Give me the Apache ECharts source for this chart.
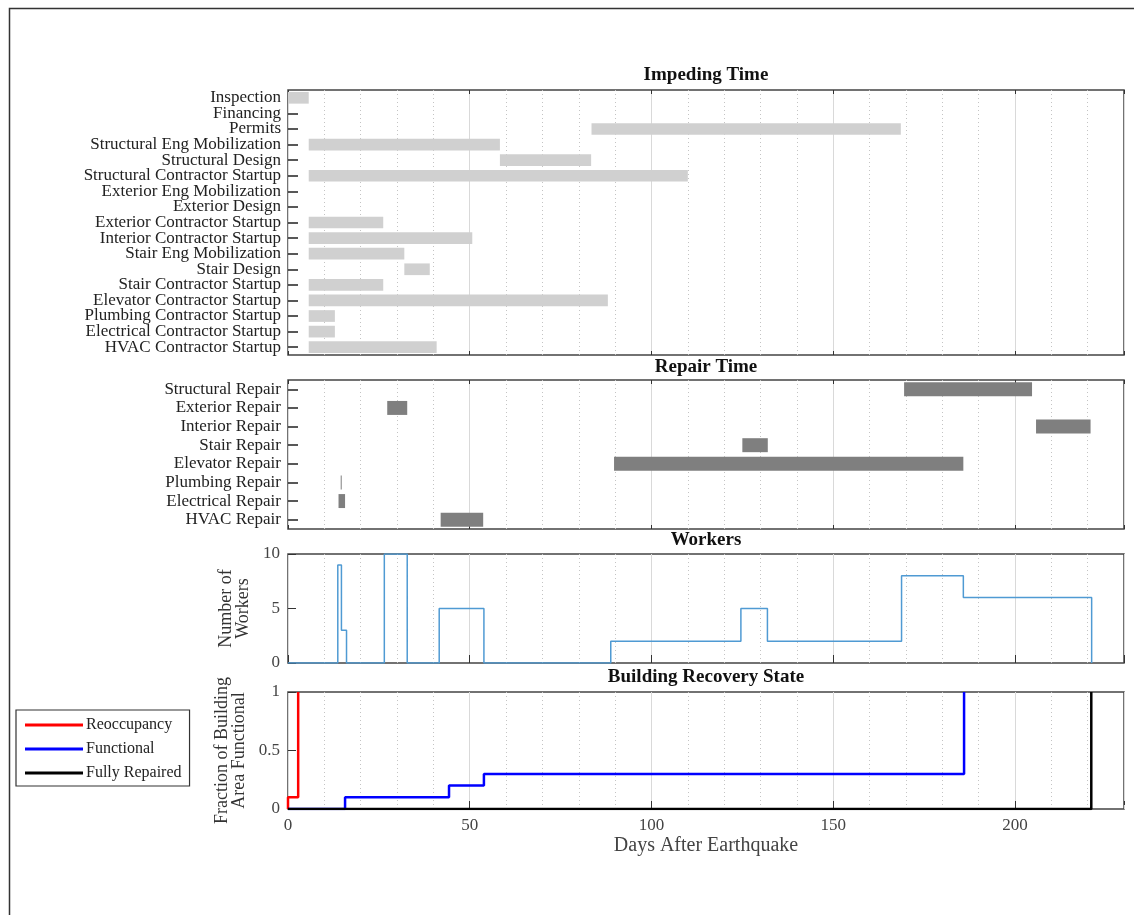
<!DOCTYPE html>
<html>
<head>
<meta charset="utf-8">
<script src="https://cdn.jsdelivr.net/npm/echarts@6/dist/echarts.min.js"></script>
<style>
html, body { margin: 0; padding: 0; background: #fff; }
#chart { width: 1134px; height: 915px; }
</style>
</head>
<body>
<div id="chart"></div>
<script>
// impeding time (days after earthquake)
var impedingNames = ['Inspection', 'Financing', 'Permits', 'Structural Eng Mobilization', 'Structural Design',
    'Structural Contractor Startup', 'Exterior Eng Mobilization', 'Exterior Design', 'Exterior Contractor Startup',
    'Interior Contractor Startup', 'Stair Eng Mobilization', 'Stair Design', 'Stair Contractor Startup',
    'Elevator Contractor Startup', 'Plumbing Contractor Startup', 'Electrical Contractor Startup', 'HVAC Contractor Startup'];
var impedingStart = [0, null, 83.5, 5.7, 58.3, 5.7, null, null, 5.7, 5.7, 5.7, 32, 5.7, 5.7, 5.7, 5.7, 5.7];
var impedingEnd   = [5.7, null, 168.6, 58.3, 83.4, 110, null, null, 26.2, 50.7, 32, 39, 26.2, 88, 12.9, 12.9, 40.9];

// repair time
var repairNames = ['Structural Repair', 'Exterior Repair', 'Interior Repair', 'Stair Repair',
    'Elevator Repair', 'Plumbing Repair', 'Electrical Repair', 'HVAC Repair'];
var repairStart = [169.5, 27.3, 205.8, 125, 89.7, 14.5, 13.9, 42];
var repairEnd   = [204.7, 32.8, 220.8, 132, 185.8, 14.7, 15.7, 53.7];

// workers (value holds from each day onward)
var workerDays  = [0, 13.7, 14.7, 16.1, 26.5, 32.8, 41.6, 53.9, 88.8, 124.6, 131.9, 168.8, 185.8, 221.1];
var workerCount = [0, 9, 3, 0, 10, 0, 5, 0, 2, 5, 2, 8, 6, 0];

// building recovery state
var reoccDays = [0, 0, 2.8];
var reoccFrac = [0, 0.1, 1];
var funcDays  = [0, 15.7, 44.3, 53.9, 186];
var funcFrac  = [0, 0.1, 0.2, 0.3, 1];
var fullDays  = [0, 221];
var fullFrac  = [0, 1];

// axis ticks
var dayTicks = [0, 50, 100, 150, 200];
var dayMax = 230;
var workerTicks = [0, 5, 10];
var fracTicks = [0, 0.5, 1];

var serif = '"Liberation Serif", "DejaVu Serif", serif';
var grids = [
    {left: 288, top: 90, width: 836, height: 265},
    {left: 288, top: 380, width: 836, height: 149},
    {left: 288, top: 554, width: 836, height: 109},
    {left: 288, top: 692, width: 836, height: 117}
];

function zip(xs, ys) {
    return xs.map(function (x, i) { return [x, ys[i]]; });
}

// ticks point into the plot box: shift each axis inward by the tick length
var TL = 4;
var tickStyle = {show: true, inside: false, length: TL, lineStyle: {color: '#333', width: 1}};

function dayAxis(g, pos) {
    var bottom = pos === 'bottom';
    return {
        type: 'value', gridIndex: g, position: pos, offset: -TL,
        min: dayTicks[0], max: dayMax, interval: dayTicks[1] - dayTicks[0],
        axisLine: {show: false},
        axisTick: tickStyle,
        axisLabel: {show: bottom && g === 3, showMaxLabel: false, color: '#444', fontFamily: serif, fontSize: 17, margin: 8 + TL},
        name: bottom && g === 3 ? 'Days After Earthquake' : '',
        nameLocation: 'middle', nameGap: 27 + TL,
        nameTextStyle: {color: '#444', fontFamily: serif, fontSize: 20},
        splitLine: {show: bottom, lineStyle: {color: '#d9d9d9', width: 1}},
        minorTick: {show: false, splitNumber: 5},
        minorSplitLine: {show: bottom, lineStyle: {color: '#c4c4c4', width: 1, type: [1, 3]}}
    };
}

function catAxis(g, names, pos) {
    var left = pos === 'left';
    return {
        type: 'category', gridIndex: g, position: pos, data: names, inverse: true, offset: -5,
        axisLine: {show: false},
        axisTick: {show: true, inside: false, alignWithLabel: true, length: 5, lineStyle: {color: '#222', width: 1.5}},
        axisLabel: {show: left, interval: 0, color: '#222', fontFamily: serif, fontSize: 17, lineHeight: 15, margin: 12},
        splitLine: {show: false}
    };
}

function valAxis(g, ticks, pos, name, gap) {
    var left = pos === 'left';
    return {
        type: 'value', gridIndex: g, position: pos, offset: -TL,
        min: ticks[0], max: ticks[ticks.length - 1], interval: ticks[1] - ticks[0],
        axisLine: {show: false},
        axisTick: tickStyle,
        axisLabel: {show: left, color: '#444', fontFamily: serif, fontSize: 17, margin: 8 + TL},
        splitLine: {show: false},
        name: left ? name : '', nameLocation: 'middle', nameRotate: 90, nameGap: gap + TL,
        nameTextStyle: {color: '#333', fontFamily: serif, fontSize: 18, lineHeight: 17}
    };
}

function ganttSeries(g, starts, ends, color, key) {
    return [
        {
            type: 'bar', name: key + ' base', xAxisIndex: g, yAxisIndex: g, stack: key, silent: true,
            barWidth: '75%', itemStyle: {color: 'transparent'},
            data: starts.map(function (v) { return v == null ? '-' : v; })
        },
        {
            type: 'bar', name: key, xAxisIndex: g, yAxisIndex: g, stack: key,
            barWidth: '75%', barMinHeight: 1, itemStyle: {color: color},
            data: ends.map(function (e, i) { return e == null ? '-' : +(e - starts[i]).toFixed(2); })
        }
    ];
}

function stepLine(name, xs, ys, color, width, z) {
    return {
        type: 'line', name: name, xAxisIndex: 3, yAxisIndex: 3, step: 'end',
        showSymbol: false, symbol: 'none', z: z,
        lineStyle: {color: color, width: width}, itemStyle: {color: color},
        data: zip(xs, ys)
    };
}

var xAxes = [], yAxes = [];
for (var g = 0; g < 4; g++) xAxes.push(dayAxis(g, 'bottom'));
for (var g2 = 0; g2 < 4; g2++) xAxes.push(dayAxis(g2, 'top'));
yAxes.push(catAxis(0, impedingNames, 'left'));
yAxes.push(catAxis(1, repairNames, 'left'));
yAxes.push(valAxis(2, workerTicks, 'left', 'Number of\nWorkers', 35));
yAxes.push(valAxis(3, fracTicks, 'left', 'Fraction of Building\nArea Functional', 40));
yAxes.push(catAxis(0, impedingNames, 'right'));
yAxes.push(catAxis(1, repairNames, 'right'));
yAxes.push(valAxis(2, workerTicks, 'right', '', 0));
yAxes.push(valAxis(3, fracTicks, 'right', '', 0));

var titleStyle = {color: '#111', fontFamily: serif, fontSize: 19, fontWeight: 'bold'};
function panelTitle(text, top) {
    return {text: text, left: 706, top: top, textAlign: 'center', padding: 0, textStyle: titleStyle};
}

var option = {
    animation: false,
    backgroundColor: '#fff',
    title: [
        panelTitle('Impeding Time', 66),
        panelTitle('Repair Time', 358),
        panelTitle('Workers', 531),
        panelTitle('Building Recovery State', 668)
    ],
    grid: grids.map(function (r) {
        return {left: r.left, top: r.top, width: r.width, height: r.height,
            show: true, borderColor: '#444', borderWidth: 1.5, backgroundColor: 'transparent'};
    }),
    xAxis: xAxes,
    yAxis: yAxes,
    legend: {
        data: ['Reoccupancy', 'Functional', 'Fully Repaired'],
        orient: 'vertical', left: 16, top: 710,
        icon: 'rect', itemWidth: 58, itemHeight: 3, itemGap: 8,
        padding: [7, 8, 5, 9],
        borderColor: '#333', borderWidth: 1.2, backgroundColor: '#fff',
        textStyle: {color: '#222', fontFamily: serif, fontSize: 16, lineHeight: 16, padding: [0, 0, 0, -2]}
    },
    graphic: [{
        type: 'rect', left: 7, top: 6, silent: true,
        shape: {width: 1200, height: 1000},
        style: {fill: 'none', stroke: '#333', lineWidth: 1.5}
    }],
    series: [].concat(
        ganttSeries(0, impedingStart, impedingEnd, '#d0d0d0', 'Impeding'),
        ganttSeries(1, repairStart, repairEnd, '#7f7f7f', 'Repair'),
        [{
            type: 'line', name: 'Workers', xAxisIndex: 2, yAxisIndex: 2, step: 'end',
            showSymbol: false, symbol: 'none',
            lineStyle: {color: '#4f9ad3', width: 1.5},
            data: zip(workerDays, workerCount)
        }],
        [
            stepLine('Reoccupancy', reoccDays, reoccFrac, '#ff0000', 2.5, 3),
            stepLine('Functional', funcDays, funcFrac, '#0000ff', 2.5, 4),
            stepLine('Fully Repaired', fullDays, fullFrac, '#000000', 2.5, 5)
        ]
    )
};

var myChart = echarts.init(document.getElementById('chart'));
myChart.setOption(option);
</script>
</body>
</html>
